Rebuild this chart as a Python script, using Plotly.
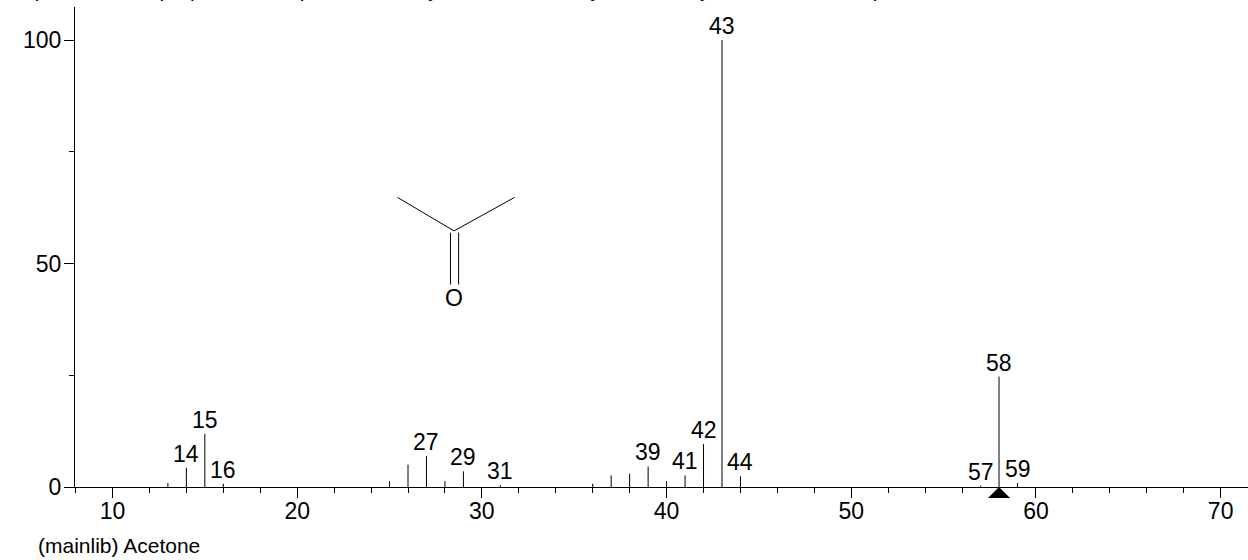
"""EI mass spectrum of acetone, drawn as a NIST style stick plot."""

import plotly.graph_objects as go

FONT = "Liberation Sans"

# Spectrum: m/z and relative intensity
mz = [13, 14, 15, 16, 25, 26, 27, 28, 29, 31, 36, 37, 38, 39, 40, 41, 42, 43, 44, 57, 58, 59]
intensity = [0.9, 4.3, 11.9, 0.75, 1.3, 5.0, 6.9, 1.3, 3.5, 0.4, 0.75, 2.6, 3.0, 4.6, 1.3,
             2.6, 9.6, 100, 2.4, 0.3, 24.7, 0.9]

# Peaks that carry a label
labeled_mz = [14, 15, 16, 27, 29, 31, 39, 41, 42, 43, 44, 57, 58, 59]

# Axis ticks
x_ticks = [10, 20, 30, 40, 50, 60, 70]
y_ticks = [0, 50, 100]

# Molecular ion marker, sits under the axis at this m/z
precursor_mz = 58

# Structure sketch, in the plot's own units
skeleton_x = [25.43, 28.49, 31.77]
skeleton_y = [64.8, 57.3, 64.8]
bond_left_x = [28.30, 28.30]
bond_right_x = [28.74, 28.74]
bond_y = [56.9, 45.3]
oxygen_x = 28.49
oxygen_y = 42.2

# The header line is cut off by the top of the page in the original, so these
# words are a guess that only has to fill the same width
header = "Propanone, Ketopropane, 2-Propanone, Methyl ketone, Dimethyl ketone, Pyroacetic acid, Propan-2-one"
caption = "(mainlib) Acetone"

fig = go.Figure()

# Sticks: one pixel error bars hanging from each peak down to the baseline
fig.add_trace(
    go.Scatter(
        x=mz,
        y=intensity,
        mode="markers",
        marker=dict(size=1, color="rgba(0,0,0,0)"),
        error_y=dict(
            type="data",
            symmetric=False,
            array=[0] * len(mz),
            arrayminus=intensity,
            width=0,
            thickness=1,
            color="black",
        ),
        showlegend=False,
    )
)

for xs, ys in [(skeleton_x, skeleton_y), (bond_left_x, bond_y), (bond_right_x, bond_y)]:
    fig.add_trace(
        go.Scatter(x=xs, y=ys, mode="lines", line=dict(color="black", width=1), showlegend=False)
    )

# Labels sit on top of their peaks
peak_by_mz = dict(zip(mz, intensity))
for m in labeled_mz:
    fig.add_annotation(
        text=str(m),
        x=m,
        y=peak_by_mz[m],
        yanchor="bottom",
        yshift=-1,
        showarrow=False,
        font=dict(family=FONT, size=23, color="black"),
    )

fig.add_annotation(
    text="O",
    x=oxygen_x,
    y=oxygen_y,
    showarrow=False,
    font=dict(family=FONT, size=23, color="black"),
)
fig.add_annotation(
    text=caption,
    xref="paper",
    yref="paper",
    x=-0.033,
    y=-0.122,
    xanchor="left",
    yanchor="middle",
    showarrow=False,
    font=dict(family=FONT, size=21, color="black"),
)
fig.add_annotation(
    text=header,
    xref="paper",
    yref="paper",
    x=-0.064,
    y=1,
    xanchor="left",
    yanchor="bottom",
    yshift=4,
    showarrow=False,
    font=dict(family=FONT, size=21, color="black"),
)

# Pixel sized triangle anchored on the axis line
fig.add_shape(
    type="path",
    xref="x",
    yref="paper",
    xsizemode="pixel",
    ysizemode="pixel",
    xanchor=precursor_mz,
    yanchor=0,
    path="M -11 -11 L 11 -11 L 0 0 Z",
    fillcolor="black",
    line_width=0,
    layer="above",
)

fig.update_xaxes(
    range=[7.97, 71.48],
    tickvals=x_ticks,
    ticks="outside",
    ticklen=10,
    tickwidth=1,
    tickcolor="black",
    minor=dict(dtick=2, tick0=0, ticks="outside", ticklen=5, tickwidth=1, tickcolor="black"),
    showline=True,
    linecolor="black",
    linewidth=1,
    showgrid=False,
    zeroline=False,
    ticklabelstandoff=-7,
    tickfont=dict(family=FONT, size=23, color="black"),
)
fig.update_yaxes(
    range=[0, 107.4],
    tickvals=y_ticks,
    ticks="outside",
    ticklen=10,
    tickwidth=1,
    tickcolor="black",
    minor=dict(dtick=25, tick0=0, ticks="outside", ticklen=5, tickwidth=1, tickcolor="black"),
    showline=True,
    linecolor="black",
    linewidth=1,
    showgrid=False,
    zeroline=False,
    ticklabelstandoff=-2,
    tickfont=dict(family=FONT, size=23, color="black"),
)
fig.update_layout(
    width=1248,
    height=560,
    margin=dict(l=75, r=0, t=7, b=73),
    plot_bgcolor="white",
    paper_bgcolor="white",
)

fig.write_html(
    "out.html",
    config={"displayModeBar": False},
    post_script="document.body.style.margin = '0';",
)
